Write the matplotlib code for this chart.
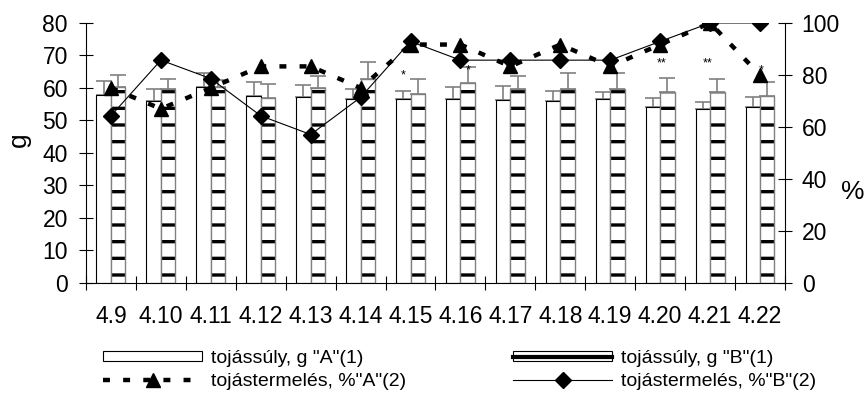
import numpy as np
import matplotlib
matplotlib.use('Agg')
import matplotlib.pyplot as plt
from matplotlib.lines import Line2D
from matplotlib.patches import Patch
from matplotlib.legend_handler import HandlerTuple

# days of the trial
dates = ['4.9', '4.10', '4.11', '4.12', '4.13', '4.14', '4.15',
         '4.16', '4.17', '4.18', '4.19', '4.20', '4.21', '4.22']

# egg weight (g) with standard deviation, groups A and B
weight_a = [57.8, 56.0, 60.2, 57.6, 57.3, 56.5, 56.6, 56.7, 56.3, 56.0, 56.5, 54.0, 53.4, 54.0]
weight_a_sd = [4.4, 3.6, 4.5, 4.3, 3.6, 3.1, 2.6, 3.7, 4.3, 3.2, 2.3, 2.8, 2.3, 3.3]
weight_b = [60.2, 59.6, 60.3, 57.0, 59.9, 62.8, 58.3, 61.4, 59.8, 59.6, 59.6, 58.8, 58.8, 57.4]
weight_b_sd = [3.8, 3.2, 2.0, 4.3, 3.8, 5.3, 4.4, 5.1, 4.0, 4.9, 4.9, 4.4, 4.0, 4.4]

# egg production (%) for groups A and B
prod_a = [75.0, 67.0, 75.0, 83.3, 83.3, 75.0, 91.7, 91.7, 83.3, 91.7, 83.3, 91.7, 100.0, 80.0]
prod_b = [64.3, 85.7, 78.6, 64.3, 57.1, 71.4, 92.9, 85.7, 85.7, 85.7, 85.7, 92.9, 100.0, 100.0]

# significance marks: (day index, label, bar side, height in g)
signif = [(6, '*', -1, 64.0), (7, '*', 1, 65.5), (9, '*', 0.6, 68.0),
          (11, '**', 0.2, 67.6), (12, '**', -0.3, 67.6), (13, '*', 0.2, 65.3)]

plt.rcParams['font.family'] = ['Liberation Sans', 'DejaVu Sans']
plt.rcParams['lines.scale_dashes'] = False
plt.rcParams['hatch.linewidth'] = 2.4

fig = plt.figure(figsize=(8.67, 4.03), dpi=100)
ax = fig.add_axes([0.0992, 0.2978, 0.8062, 0.6452])

x = np.arange(len(dates))
w = 0.29
n = len(dates)
dash_a = (0, (5, 9.5))

# weight bars, A plain, B with thick horizontal dashes
ax.errorbar(x - w/2, weight_a, yerr=[np.zeros(n), weight_a_sd], fmt='none',
            ecolor='gray', elinewidth=1.2, capsize=6, capthick=1.2, zorder=1)
ax.errorbar(x + w/2, weight_b, yerr=[np.zeros(n), weight_b_sd], fmt='none',
            ecolor='gray', elinewidth=1.2, capsize=6, capthick=1.2, zorder=1)
ax.bar(x - w/2, weight_a, w, color='white', edgecolor='black', linewidth=0.8, zorder=2)
ax.bar(x + w/2, weight_b, w, color='white', edgecolor='black', linewidth=0,
       hatch='-', zorder=2)
ax.bar(x + w/2, weight_b, w, fill=False, edgecolor='gray', linewidth=1.0, zorder=2.1)

for i, lab, side, yv in signif:
    ax.text(x[i] + side * w/2, yv, lab, fontsize=9, ha='center', va='center', zorder=3)

ax.set_xlim(-0.5, n - 0.5)
ax.set_ylim(0, 80)
ax.set_yticks(np.arange(0, 81, 10))
ax.set_xticks(x, dates)
ax.set_xticks(np.arange(-0.5, n), minor=True)
ax.tick_params(axis='x', which='major', length=0, pad=16, labelsize=16.5)
ax.tick_params(axis='x', which='minor', direction='inout', length=10, width=0.8)
ax.tick_params(axis='y', direction='inout', length=10, width=0.8, pad=8, labelsize=16.5)
for s in ['top', 'right']:
    ax.spines[s].set_visible(False)

# egg production lines on the right axis
ax2 = ax.twinx()
ax2.plot(x, prod_a, color='black', lw=3.2, linestyle=dash_a,
         marker='^', ms=9.5, zorder=3)
ax2.plot(x, prod_b, color='black', lw=0.8, marker='D', ms=8, zorder=4)
ax2.set_ylim(0, 100)
ax2.set_yticks(np.arange(0, 101, 20))
ax2.tick_params(axis='y', direction='inout', length=10, width=0.8, pad=7, labelsize=16.5)
for s in ['top', 'left', 'bottom']:
    ax2.spines[s].set_visible(False)

fig.text(19/867, 1 - 140/403, 'g', rotation=90, fontsize=19, ha='center', va='center')
fig.text(853/867, 1 - 192/403, '%', fontsize=19, ha='center', va='center')

# legend below the plot
h_a = Patch(facecolor='white', edgecolor='black', linewidth=0.8)
h_b = (Patch(facecolor='white', edgecolor='black', linewidth=0.8),
       Line2D([], [], color='black', lw=3))
l_a = Line2D([], [], color='black', lw=3.2, linestyle=dash_a, marker='^', ms=9.5)
l_b = Line2D([], [], color='black', lw=0.8, marker='D', ms=8)
fig.legend([h_a, l_a, h_b, l_b],
           ['tojássúly, g "A"(1)', 'tojástermelés, %"A"(2)',
            'tojássúly, g "B"(1)', 'tojástermelés, %"B"(2)'],
           ncol=2, loc='upper left', bbox_to_anchor=(103/867, 1 - 350/403),
           frameon=False, fontsize=14, handlelength=5.1, handletextpad=0.45,
           columnspacing=5.5, borderpad=0, borderaxespad=0, handleheight=0.45,
           labelspacing=0.3, handler_map={tuple: HandlerTuple(ndivide=1)})

fig.savefig('out.png', dpi=100)
